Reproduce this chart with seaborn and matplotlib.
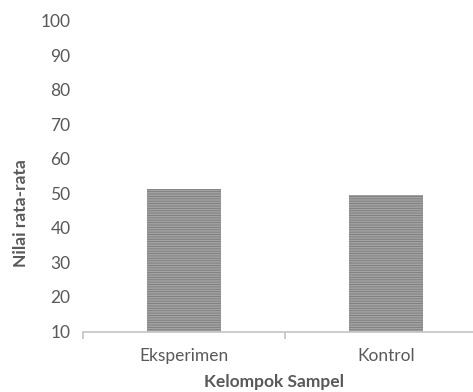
import matplotlib
matplotlib.use("Agg")
import matplotlib.pyplot as plt
import seaborn as sns
import pandas as pd

groups = ["Eksperimen", "Kontrol"]
means = [51.3, 49.6]
y_ticks = [10, 20, 30, 40, 50, 60, 70, 80, 90, 100]

sns.set_theme(style="white")
plt.rcParams["font.family"] = ["Lato", "DejaVu Sans"]
plt.rcParams["hatch.color"] = "#7a7a7a"
plt.rcParams["hatch.linewidth"] = 0.6

df = pd.DataFrame({"group": groups, "mean": means})

fig = plt.figure(figsize=(4.73, 3.92), dpi=100)
ax = fig.add_axes([83 / 473, 60.5 / 392, 404 / 473, 311 / 392])

sns.barplot(data=df, x="group", y="mean", ax=ax, width=0.37,
            color="#a3a3a3", saturation=1, linewidth=0)
for p in ax.patches:
    p.set_hatch("-------")
    p.set_edgecolor("#7a7a7a")
    p.set_linewidth(0)

ax.set_ylim(10, 100)
ax.set_yticks(y_ticks)
ax.set_xlim(-0.5, 1.5)

for s in ["top", "right", "left"]:
    ax.spines[s].set_visible(False)
ax.spines["bottom"].set_color("#c8c8c8")
ax.spines["bottom"].set_linewidth(1.3)

ax.tick_params(axis="y", length=0, pad=9, labelsize=12.5, labelcolor="#595959")
ax.tick_params(axis="x", which="major", length=0, pad=12, labelsize=12.5,
               labelcolor="#595959")
ax.set_xticks([-0.5, 0.5, 1.5], minor=True)
ax.tick_params(axis="x", which="minor", bottom=True, length=5, width=1.3,
               color="#c8c8c8", direction="out")

ax.set_xlabel("Kelompok Sampel", fontsize=12.5, fontweight="bold",
              color="#595959", va="center")
ax.set_ylabel("Nilai rata-rata", fontsize=12.5, fontweight="bold",
              color="#595959", va="center")
ax.xaxis.set_label_coords((274 - 83) / 404, -(382 - 331.5) / 311)
ax.yaxis.set_label_coords(-(83 - 21) / 404, (331.5 - 213) / 311)

fig.savefig("out.png", dpi=100)
